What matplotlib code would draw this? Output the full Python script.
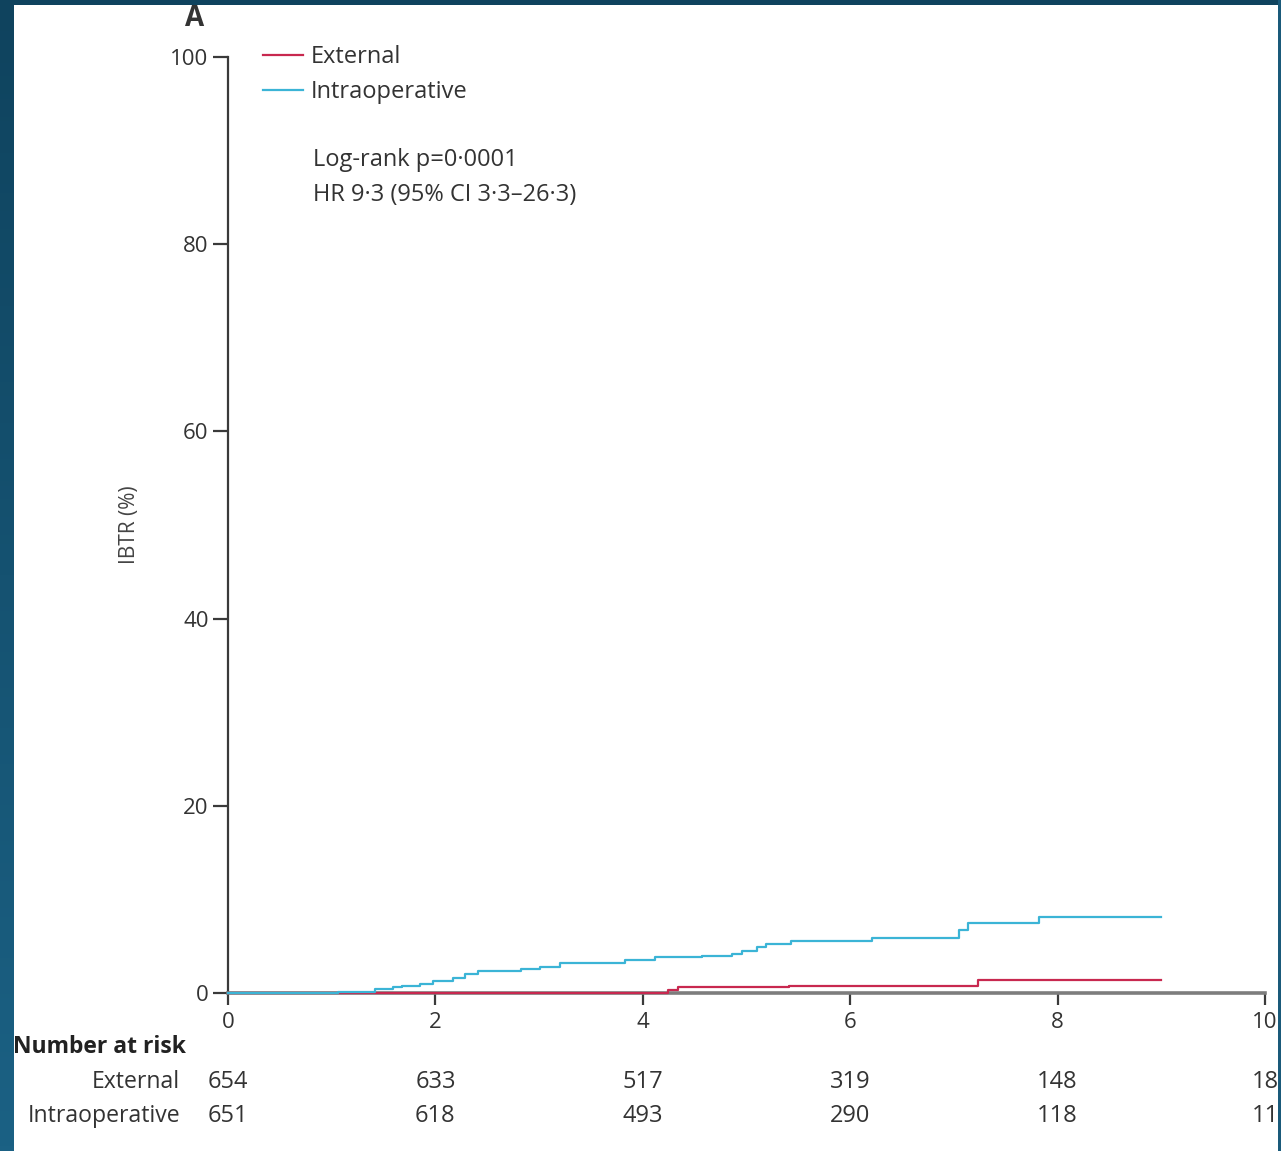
import matplotlib
matplotlib.use("Agg")
import matplotlib.pyplot as plt
import numpy as np
from matplotlib.colors import LinearSegmentedColormap
from matplotlib.patches import Rectangle

plt.rcParams["font.family"] = ["Open Sans", "DejaVu Sans"]

# Kaplan-Meier style cumulative IBTR curves (years, %)
ext_t = [0, 4.24, 4.34, 5.41, 7.23, 9.0]
ext_y = [0, 0.3, 0.6, 0.8, 1.4, 1.4]

intra_t = [0, 1.06, 1.42, 1.59, 1.68, 1.85, 1.98, 2.17, 2.29, 2.41, 2.83, 3.01,
           3.2, 3.83, 4.12, 4.57, 4.86, 4.96, 5.10, 5.19, 5.43, 6.21, 7.05, 7.14,
           7.82, 9.0]
intra_y = [0, 0.1, 0.4, 0.6, 0.8, 1.0, 1.3, 1.6, 2.0, 2.4, 2.6, 2.8,
           3.2, 3.5, 3.8, 4.0, 4.2, 4.5, 4.95, 5.2, 5.6, 5.85, 6.7, 7.5,
           8.15, 8.15]

risk_times = [0, 2, 4, 6, 8, 10]
risk_external = ["654", "633", "517", "319", "148", "18"]
risk_intra = ["651", "618", "493", "290", "118", "11"]

red = "#c8284f"
cyan = "#3bb4d6"
txt = "#333333"

fig = plt.figure(figsize=(12.81, 11.51), dpi=100)

# dark gradient frame + white panel
bg = fig.add_axes([0, 0, 1, 1], zorder=-5)
cmap = LinearSegmentedColormap.from_list("frame", ["#0f435e", "#1b6184"])
bg.imshow(np.linspace(0, 1, 256).reshape(-1, 1), cmap=cmap, aspect="auto",
          extent=[0, 1, 0, 1])
bg.add_patch(Rectangle((14 / 1281, 0), (1278 - 14) / 1281, (1151 - 5) / 1151,
                       facecolor="white", edgecolor="none"))
bg.set_xlim(0, 1)
bg.set_ylim(0, 1)
bg.axis("off")

ax = fig.add_axes([228 / 1281, 158 / 1151, (1265 - 228) / 1281, (993 - 57) / 1151])
ax.set_facecolor("none")

ax.step(ext_t, ext_y, where="post", color=red, lw=1.6, zorder=3, clip_on=False,
        label="External")
ax.step(intra_t, intra_y, where="post", color=cyan, lw=1.6, zorder=3, clip_on=False,
        label="Intraoperative")

ax.set_xlim(0, 10)
ax.set_ylim(0, 100)
ax.set_xticks([0, 2, 4, 6, 8, 10])
ax.set_yticks([0, 20, 40, 60, 80, 100])
for s in ("top", "right"):
    ax.spines[s].set_visible(False)
ax.spines["left"].set_color("#3a3a3a")
ax.spines["left"].set_linewidth(1.6)
ax.spines["bottom"].set_color("#7d7d7d")
ax.spines["bottom"].set_linewidth(2.6)
ax.tick_params(axis="y", length=11, width=1.6, color="#3a3a3a", pad=3,
               labelsize=16, labelcolor=txt)
ax.tick_params(axis="x", length=8.5, width=1.6, color="#3a3a3a", pad=5,
               labelsize=16, labelcolor=txt)

fig.text(130 / 1281, 1 - 525 / 1151, "IBTR (%)", rotation=90, fontsize=15,
         color="#444444", ha="center", va="center")

ax.legend(loc="upper left", bbox_to_anchor=(0.0247, 1.0227), frameon=False,
          fontsize=17, handlelength=1.68, handletextpad=0.32, labelspacing=0.45,
          labelcolor=txt, borderaxespad=0)

ax.text(0.082, 0.9028, "Log-rank p=0·0001\nHR 9·3 (95% CI 3·3–26·3)",
        transform=ax.transAxes, fontsize=17, color=txt, va="top", ha="left",
        linespacing=1.61)

fig.text(195 / 1281, 1 - 19 / 1151, "A", fontsize=20, fontweight="bold",
         color=txt, ha="center", va="center")

# number at risk table
tr = ax.get_xaxis_transform()
ax.text(-215 / 103.7, (993 - 1047) / 936, "Number at risk", transform=tr,
        fontsize=16.5, fontweight="bold", color="#222222", ha="left", va="center",
        clip_on=False)
for label, row, ypix in (("External", risk_external, 1082),
                         ("Intraoperative", risk_intra, 1116)):
    yy = (993 - ypix) / 936
    ax.text(-48 / 103.7, yy, label, transform=tr, fontsize=16.6, color=txt,
            ha="right", va="center", clip_on=False)
    for t, n in zip(risk_times, row):
        ax.text(t, yy, n, transform=tr, fontsize=17, color=txt, ha="center",
                va="center", clip_on=False)

# right frame edge drawn over clipped labels
fig.patches.append(Rectangle((1278 / 1281, 0), 3 / 1281, 1, transform=fig.transFigure,
                             facecolor="#1a5a7a", edgecolor="none", zorder=20))

fig.savefig("out.png", dpi=100)
